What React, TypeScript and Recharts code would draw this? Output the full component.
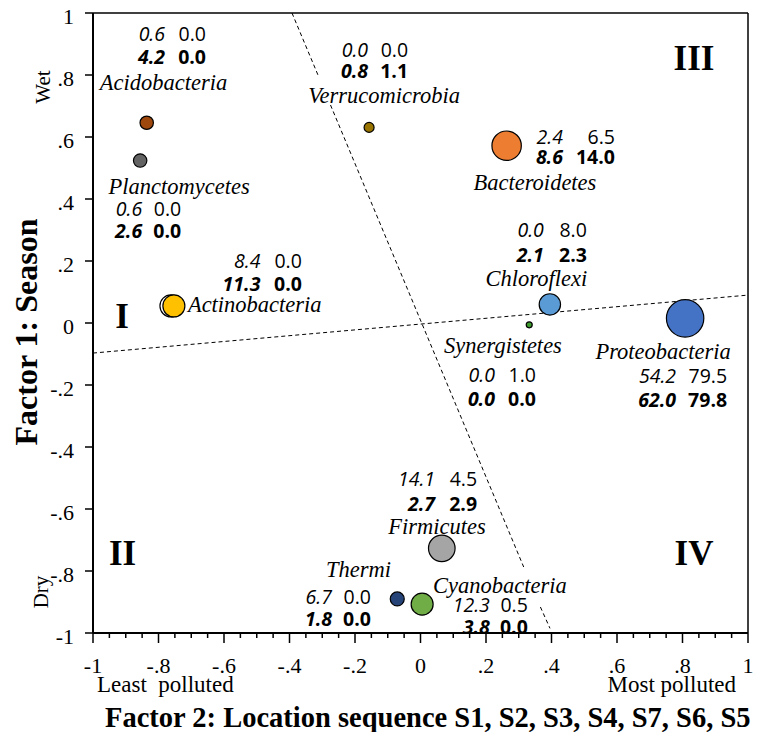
import React from "react";
import {
  ScatterChart,
  Scatter,
  XAxis,
  YAxis,
  ZAxis,
  ReferenceLine,
  Customized,
} from "recharts";

// bubble chart of phyla on two factors
const phyla = [
  "Acidobacteria",
  "Planctomycetes",
  "Actinobacteria",
  "Verrucomicrobia",
  "Bacteroidetes",
  "Chloroflexi",
  "Synergistetes",
  "Proteobacteria",
  "Firmicutes",
  "Thermi",
  "Cyanobacteria",
];
const factor2 = [-0.836, -0.856, -0.753, -0.157, 0.263, 0.395, 0.332, 0.808, 0.065, -0.071, 0.005];
const factor1 = [0.646, 0.524, 0.055, 0.631, 0.572, 0.06, -0.006, 0.015, -0.727, -0.89, -0.907];
const bubbleSize = [45, 45, 121, 25, 216, 114, 9, 350, 177, 49, 121];

// the four numbers printed beside each bubble
const topLeft = [0.6, 0.6, 8.4, 0.0, 2.4, 0.0, 0.0, 54.2, 14.1, 6.7, 12.3];
const topRight = [0.0, 0.0, 0.0, 0.0, 6.5, 8.0, 1.0, 79.5, 4.5, 0.0, 0.5];
const bottomLeft = [4.2, 2.6, 11.3, 0.8, 8.6, 2.1, 0.0, 62.0, 2.7, 1.8, 3.8];
const bottomRight = [0.0, 0.0, 0.0, 1.1, 14.0, 2.3, 0.0, 79.8, 2.9, 0.0, 0.0];

const majorTicks = [-1, -0.8, -0.6, -0.4, -0.2, 0, 0.2, 0.4, 0.6, 0.8, 1];
const xTicks = Array.from({ length: 41 }, (_, i) => Math.round((-1 + i * 0.05) * 100) / 100);

const data = phyla.map((name, i) => ({
  name,
  x: factor2[i],
  y: factor1[i],
  z: bubbleSize[i],
}));
// second marker sitting just behind Actinobacteria
const behind = [{ name: "behind", x: -0.762, y: 0.055, z: 121 }];

const colors = [
  "#9E480E",
  "#636363",
  "#FFC000",
  "#997300",
  "#ED7D31",
  "#5B9BD5",
  "#3E9B2E",
  "#4472C4",
  "#A5A5A5",
  "#264478",
  "#70AD47",
];

// label placement, pixel offsets from bubble centre
// name: [dx, dy, anchor], nums: [leftColEnd, rightColEnd, row1, row2]
const labelPos: { name: [number, number, string]; nums: [number, number, number, number] }[] = [
  { name: [16.8, -40.7, "middle"], nums: [18.3, 59.3, -89.7, -66.7] },
  { name: [39, 26.3, "middle"], nums: [2, 41, 48.3, 70.3] },
  { name: [14, -1, "start"], nums: [86.5, 128, -45, -22] },
  { name: [15, -32.3, "middle"], nums: [-1, 39, -78.3, -57.3] },
  { name: [28.3, 37.3, "middle"], nums: [56.3, 108.3, -8.7, 11.3] },
  { name: [-13.5, -26.3, "middle"], nums: [-6, 37, -75.3, -50.3] },
  { name: [-26.3, 21, "middle"], nums: [-34.3, 6.7, 50, 74] },
  { name: [-22, 32.7, "middle"], nums: [-9, 42, 56.7, 80.7] },
  { name: [-4.7, -22.3, "middle"], nums: [-6.7, 35.3, -70.3, -45.3] },
  { name: [-38.8, -29, "middle"], nums: [-65.3, -26.3, -2, 20] },
  { name: [77.7, -18.3, "middle"], nums: [67.7, 105.7, 0.7, 22.7] },
];

const SERIF = '"Liberation Serif", "Times New Roman", serif';
const SANS = '"Open Sans", "Noto Sans", sans-serif';

const fmt = (v: number) => {
  if (v === 0) return "0";
  const a = Math.abs(v);
  const s = a === 1 ? "1" : a.toFixed(1).replace(/^0/, "");
  return v < 0 ? "-" + s : s;
};

const XTick = (props: any) => {
  const { x, y, payload } = props;
  const v = payload.value;
  const major = Math.abs(v * 5 - Math.round(v * 5)) < 1e-6;
  return (
    <g>
      <line x1={x} x2={x} y1={y} y2={y + (major ? 10 : 5)} stroke="#000" strokeWidth={1.5} />
      {major && (
        <text x={x} y={y + 32} textAnchor="middle" dominantBaseline="central" fontFamily={SERIF} fontSize={22} fill="#000">
          {fmt(v)}
        </text>
      )}
    </g>
  );
};

const YTick = (props: any) => {
  const { x, y, payload } = props;
  return (
    <g>
      <line x1={x - 8} x2={x} y1={y} y2={y} stroke="#000" strokeWidth={1.5} />
      <text x={x - 19} y={y + 3} textAnchor="end" dominantBaseline="central" fontFamily={SERIF} fontSize={22} fill="#000">
        {fmt(payload.value)}
      </text>
    </g>
  );
};

const PhylumBubble = (props: any) => {
  const { cx, cy, payload } = props;
  const i = phyla.indexOf(payload.name);
  const r = props.width ? props.width / 2 : Math.sqrt((props.size || 50) / Math.PI);
  const p = labelPos[i];
  const [l, rr, r1, r2] = p.nums;
  return (
    <g>
      <circle cx={cx} cy={cy} r={r} fill={colors[i]} stroke="#000" strokeWidth={1.2} />
      <text
        x={cx + p.name[0]}
        y={cy + p.name[1]}
        textAnchor={p.name[2] as any}
        dominantBaseline="central"
        fontFamily={SERIF}
        fontStyle="italic"
        fontSize={22.5}
        fill="#000"
      >
        {payload.name}
      </text>
      <g fontFamily={SANS} fontSize={19.5} fill="#000" dominantBaseline="central" textAnchor="end">
        <text x={cx + l} y={cy + r1} fontStyle="italic">
          {topLeft[i].toFixed(1)}
        </text>
        <text x={cx + rr} y={cy + r1}>
          {topRight[i].toFixed(1)}
        </text>
        <text x={cx + l} y={cy + r2} fontStyle="italic" fontWeight="bold">
          {bottomLeft[i].toFixed(1)}
        </text>
        <text x={cx + rr} y={cy + r2} fontWeight="bold">
          {bottomRight[i].toFixed(1)}
        </text>
      </g>
    </g>
  );
};

const Annotations = () => (
  <g fontFamily={SERIF} fill="#000">
    <text x={37} y={332} transform="rotate(-90 37 332)" textAnchor="middle" fontSize={32} fontWeight="bold">
      Factor 1: Season
    </text>
    <text x={50} y={87} transform="rotate(-90 50 87)" textAnchor="middle" fontSize={21}>
      Wet
    </text>
    <text x={48} y={592} transform="rotate(-90 48 592)" textAnchor="middle" fontSize={21}>
      Dry
    </text>
    <text x={97} y={692} fontSize={23} style={{ whiteSpace: "pre" }}>
      Least  polluted
    </text>
    <text x={736} y={692} textAnchor="end" fontSize={23}>
      Most polluted
    </text>
    <text x={105} y={727} fontSize={28.5} fontWeight="bold">
      Factor 2: Location sequence S1, S2, S3, S4, S7, S6, S5
    </text>
    <g fontSize={35} fontWeight="bold" textAnchor="middle">
      <text x={122} y={328}>I</text>
      <text x={122.5} y={565}>II</text>
      <text x={694} y={70}>III</text>
      <text x={694} y={565}>IV</text>
    </g>
  </g>
);

const dash = { stroke: "#000", strokeWidth: 1, strokeDasharray: "4 3", ifOverflow: "visible" as const };

export default function App() {
  return (
    <div style={{ position: "absolute", left: 0, top: 0, width: 770, height: 732, background: "#fff" }}>
      <ScatterChart width={770} height={732} margin={{ top: 13, right: 22, bottom: 39, left: 33 }}>
        <XAxis
          type="number"
          dataKey="x"
          domain={[-1, 1]}
          ticks={xTicks}
          interval={0}
          tick={<XTick />}
          tickLine={false}
          tickSize={0}
          tickMargin={0}
          height={60}
          axisLine={{ stroke: "#000", strokeWidth: 2 }}
        />
        <YAxis
          type="number"
          dataKey="y"
          domain={[-1, 1]}
          ticks={majorTicks}
          interval={0}
          tick={<YTick />}
          tickLine={false}
          tickSize={0}
          tickMargin={0}
          width={60}
          axisLine={{ stroke: "#000", strokeWidth: 2 }}
        />
        <ZAxis type="number" dataKey="z" domain={[0, 350]} range={[0, 1099]} />
        <ReferenceLine y={1} stroke="#000" strokeWidth={1.5} />
        <ReferenceLine x={1} stroke="#000" strokeWidth={1.5} />
        <ReferenceLine segment={[{ x: -1, y: -0.097 }, { x: 1, y: 0.09 }]} {...dash} />
        <ReferenceLine segment={[{ x: -0.3924, y: 1 }, { x: -0.3105, y: 0.7935 }]} {...dash} />
        <ReferenceLine segment={[{ x: -0.2748, y: 0.7032 }, { x: 0.3151, y: -0.7871 }]} {...dash} />
        <ReferenceLine segment={[{ x: 0.3661, y: -0.9161 }, { x: 0.3954, y: -0.985 }]} {...dash} />
        <Scatter data={behind} fill="#fff" stroke="#000" strokeWidth={1.2} isAnimationActive={false} />
        <Scatter data={data} shape={<PhylumBubble />} isAnimationActive={false} />
        <Customized component={Annotations} />
      </ScatterChart>
    </div>
  );
}
